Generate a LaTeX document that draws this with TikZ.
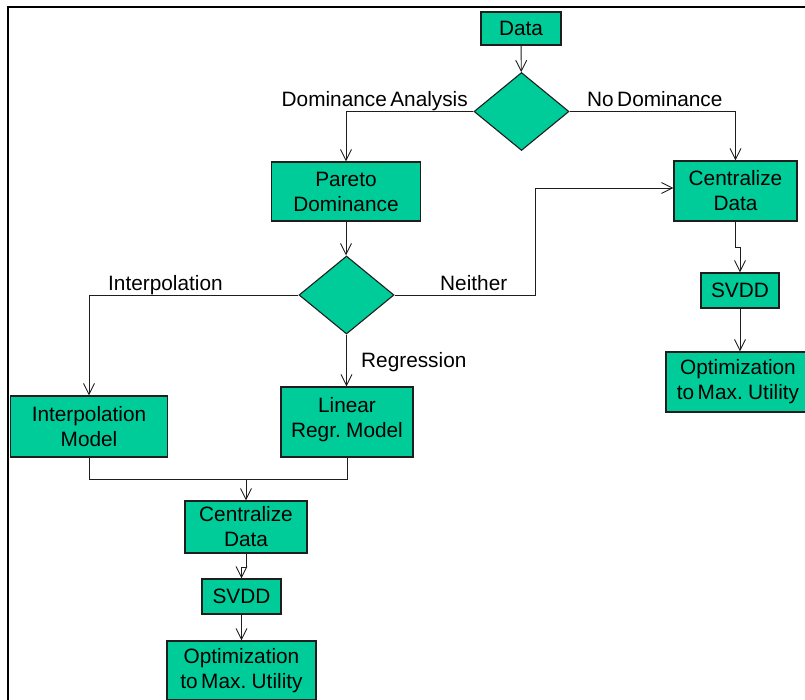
\documentclass[tikz,border=0pt]{standalone}
\usepackage{fontspec}
\setmainfont[WordSpace=0.6]{Liberation Sans}
\usetikzlibrary{shapes.geometric,arrows.meta}
\definecolor{boxfill}{RGB}{0,204,153}
\definecolor{edge}{RGB}{30,30,30}
\begin{document}
\begin{tikzpicture}[x=1pt,y=-1pt,
  font=\fontsize{20.8}{25}\selectfont,
  stepbox/.style={draw=edge,line width=1.1pt,fill=boxfill,inner sep=0pt,align=center},
  decision/.style={draw=edge,line width=1.1pt,fill=boxfill,diamond,inner sep=0pt,
    minimum width=95pt,minimum height=78pt},
  link/.style={draw=edge,line width=0.9pt},
  flow/.style={link,-{Straight Barb[length=11pt,width=11pt,line width=0.9pt]}},
  lbl/.style={inner sep=0pt,anchor=base west}]
\useasboundingbox (0,0) rectangle (805,699);
\clip (0,0) rectangle (805,699);
% outer frame
\draw[line width=1.6pt] (8,7) rectangle (830,730);

% nodes
\node[stepbox,minimum width=80pt,minimum height=33pt] (data) at (521,28.5) {Data};
\node[decision] (d1) at (521.5,111.5) {};
\node[stepbox,minimum width=149pt,minimum height=59pt] (pareto) at (346,191.5) {Pareto\\Dominance};
\node[stepbox,minimum width=123pt,minimum height=60pt] (cdR) at (735.5,191) {Centralize\\Data};
\node[decision] (d2) at (346.5,295) {};
\node[stepbox,minimum width=157pt,minimum height=61pt] (interp) at (89,426.5) {Interpolation\\Model};
\node[stepbox,minimum width=132pt,minimum height=70pt,text depth=9pt] (linreg) at (347,422) {Linear\\Regr. Model};
\node[stepbox,minimum width=122pt,minimum height=52pt] (cdB) at (246,527) {Centralize\\Data};
\node[stepbox,minimum width=79pt,minimum height=35pt] (svddB) at (241.5,596.5) {SVDD};
\node[stepbox,minimum width=149pt,minimum height=59pt] (optB) at (241.5,670.5) {Optimization\\to Max. Utility};
\node[stepbox,minimum width=78pt,minimum height=35pt] (svddR) at (740,290.5) {SVDD};
\node[stepbox,minimum width=144pt,minimum height=60pt] (optR) at (738,382) {Optimization\\to Max. Utility};

% helper points
\coordinate (nb) at (535,188);
\coordinate (mg) at (246,479);

% connectors
\draw[flow] (data) -- (d1);
\draw[flow] (d1.west) -| (pareto.north);
\draw[flow] (d1.east) -| (cdR.north);
\draw[flow] (pareto.south) -- (pareto.south |- d2.north);
\draw[flow] (d2.west) -| (interp.north);
\draw[flow] (d2.south) -- (d2.south |- linreg.north);
\draw[link] (d2.east) -| (nb);
\draw[flow] (nb) -- (cdR.west |- nb);
\draw[link] (interp.south) |- (mg);
\draw[link] (linreg.south) |- (mg);
\draw[flow] (mg) -- (cdB.north);
\draw[flow] (cdB.south) -- ++(0,14) -| (svddB.north);
\draw[flow] (svddB.south) -- (svddB.south |- optB.north);
\draw[flow] (cdR.south) -- ++(0,26) -| (svddR.north);
\draw[flow] (svddR.south) -- (svddR.south |- optR.north);

% branch labels
\node[lbl,anchor=base east] (tDom) at (468,106) {Dominance Analysis};
\node[lbl] (tNoDom) at (587,106) {No Dominance};
\node[lbl] (tInt) at (108,290) {Interpolation};
\node[lbl] (tNei) at (440,290) {Neither};
\node[lbl] (tReg) at (361,367) {Regression};
\end{tikzpicture}
\end{document}
